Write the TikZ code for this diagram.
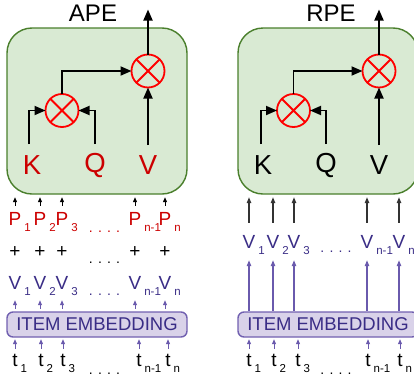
\documentclass[tikz,border=0pt]{standalone}
\usepackage{fontspec}
\setmainfont{Liberation Sans}
\usetikzlibrary{arrows.meta}
\definecolor{gfill}{HTML}{D9EAD3}
\definecolor{gline}{HTML}{4A7F2C}
\definecolor{pfill}{HTML}{D9D2E9}
\definecolor{pline}{HTML}{7160B0}
\definecolor{ptext}{HTML}{3A2D86}
\definecolor{parrow}{HTML}{6A5AAD}
\definecolor{rtext}{HTML}{CC0000}
\definecolor{cred}{HTML}{FF0000}
\definecolor{darkarr}{HTML}{333333}
\newcommand\sbs[1]{\smash{\rlap{\kern3pt\raisebox{-6pt}{\fontsize{11.5}{11.5}\selectfont #1}}}}
\begin{document}
\begin{tikzpicture}[x=1pt,y=-1pt,
  gbox/.style={draw=gline, fill=gfill, line width=1.4pt, rounded corners=25pt},
  ebox/.style={draw=pline, fill=pfill, line width=1.4pt, rounded corners=6pt},
  mul/.style={circle, draw=cred, line width=1.8pt, minimum size=33pt, inner sep=0pt, outer sep=0pt},
  blk/.style={-{Triangle[length=11pt,width=9pt]}, line width=1.8pt, black},
  sarr/.style={-{Triangle[length=5pt,width=4pt]}, line width=0.9pt, black},
  larr/.style={-{Triangle[length=6pt,width=4.5pt]}, line width=1.2pt, darkarr},
  parr/.style={-{Triangle[length=5pt,width=4pt]}, line width=0.9pt, parrow},
  plarr/.style={-{Triangle[length=6pt,width=4.5pt]}, line width=1.2pt, parrow},
  big/.style={inner sep=0pt, font=\fontsize{27.5}{27.5}\selectfont},
  ttl/.style={inner sep=0pt, font=\fontsize{24}{24}\selectfont},
  lbl/.style={inner sep=0pt, font=\fontsize{19}{19}\selectfont},
  dots/.style={inner sep=0pt, anchor=base, font=\fontsize{14}{14}\selectfont},
  etext/.style={font=\fontsize{18.5}{18.5}\selectfont, text=ptext}
]
\useasboundingbox (0,0) rectangle (414,383);
\clip (0,0) rectangle (414,383);

% ================= LEFT: APE =================
\node[ttl] (tA) at (93,13.5) {APE};
\path[gbox] (7,28) rectangle (187,194);
\node[inner sep=0pt, minimum width=180pt, minimum height=166pt] (gL) at (97,111) {};
\node[mul] (mL1) at (62,110.5) {};
\node[mul] (mL2) at (148,71) {};
\node[big, text=rtext] (kL) at (32,165) {K};
\node[big, text=rtext] (qL) at (95,165) {Q};
\node[big, text=rtext] (vL) at (148,165) {V};
\coordinate (kLs) at (29,144);
\coordinate (qLs) at (95,144);
\coordinate (vLs) at (148,145);
\coordinate (oL) at (148,9.5);
\draw[blk] (kLs) |- (mL1.west);
\draw[blk] (qLs) |- (mL1.east);
\draw[blk] (vLs) -- (mL2.south);
\draw[blk] (mL1.north) |- (mL2.west);
\draw[blk] (mL2.north) -- (oL);

% rows
\foreach \i/\x/\s in {1/15/1,2/40/2,3/62/3,4/135/n-1,5/165/n}{
  \node[lbl, text=rtext] (p\i) at (\x,219) {P\sbs{\s}};
  \node[lbl] (pl\i) at (\x,252) {+};
  \node[lbl, text=ptext] (v\i) at (\x,283) {V\sbs{\s}};
}
\foreach \i/\x/\s in {1/15/1,2/41/2,3/63/3,4/139/n-1,5/168/n}{
  \node[lbl] (t\i) at (\x,360) {t\sbs{\s}};
}
\node[dots, text=rtext] at (104.5,232) {. . . .};
\node[dots] at (104.5,263) {. . . .};
\node[dots, text=ptext] at (104.5,295) {. . . .};
\node[dots] at (104.5,374) {. . . .};

\path[ebox] (7,312) rectangle (187,337);
\node[inner sep=0pt, minimum width=180pt, minimum height=25pt, etext] (eL) at (97,324.5) {ITEM EMBEDDING};

\foreach \i in {1,...,5}{
  \draw[sarr, shorten <=6.5pt, shorten >=3pt] (p\i.north) -- (p\i.north |- gL.south);
  \draw[parr, shorten <=3pt, shorten >=10.5pt] (v\i.south |- eL.north) -- (v\i.south);
  \draw[parr, shorten <=5pt, shorten >=2pt] (t\i.north) -- (t\i.north |- eL.south);
}

% ================= RIGHT: RPE =================
\node[ttl] (tR) at (331,13.5) {RPE};
\path[gbox] (238,28) rectangle (418,194);
\node[inner sep=0pt, minimum width=180pt, minimum height=166pt] (gR) at (328,111) {};
\node[mul] (mR1) at (293.5,110.5) {};
\node[mul] (mR2) at (379,71) {};
\node[big] (kR) at (263,165) {K};
\node[big] (qR) at (326,165) {Q};
\node[big] (vR) at (379,165) {V};
\coordinate (kRs) at (260.7,144);
\coordinate (qRs) at (326,144);
\coordinate (vRs) at (379,145);
\coordinate (oR) at (379,9.5);
\draw[blk] (kRs) |- (mR1.west);
\draw[blk] (qRs) |- (mR1.east);
\draw[blk] (vRs) -- (mR2.south);
\draw[blk] (mR1.north) |- (mR2.west);
\draw[blk] (mR2.north) -- (oR);

\foreach \i/\x/\s in {1/249/1,2/273/2,3/294/3,4/367/n-1,5/399/n}{
  \node[lbl, text=ptext] (rv\i) at (\x,242) {V\sbs{\s}};
}
\foreach \i/\x/\s in {1/249/1,2/274/2,3/298/3,4/368/n-1,5/400/n}{
  \node[lbl] (rt\i) at (\x,360) {t\sbs{\s}};
}
\node[dots, text=ptext] at (336,252) {. . . .};
\node[dots] at (336,374) {. . . .};

\path[ebox] (238,312) rectangle (418,337);
\node[inner sep=0pt, minimum width=180pt, minimum height=25pt, etext] (eR) at (328,324.5) {ITEM EMBEDDING};

\foreach \i in {1,...,5}{
  \draw[larr, shorten <=12.5pt, shorten >=3pt] (rv\i.north) -- (rv\i.north |- gR.south);
  \draw[plarr, shorten <=1pt, shorten >=11.5pt] (rv\i.south |- eR.north) -- (rv\i.south);
  \draw[parr, shorten <=5pt, shorten >=2pt] (rt\i.north) -- (rt\i.north |- eR.south);
}

% crosses
\foreach \c in {mL1,mL2,mR1,mR2}{
  \draw[cred, line width=1.8pt] (\c.north west) -- (\c.south east) (\c.north east) -- (\c.south west);
}
\end{tikzpicture}
\end{document}
